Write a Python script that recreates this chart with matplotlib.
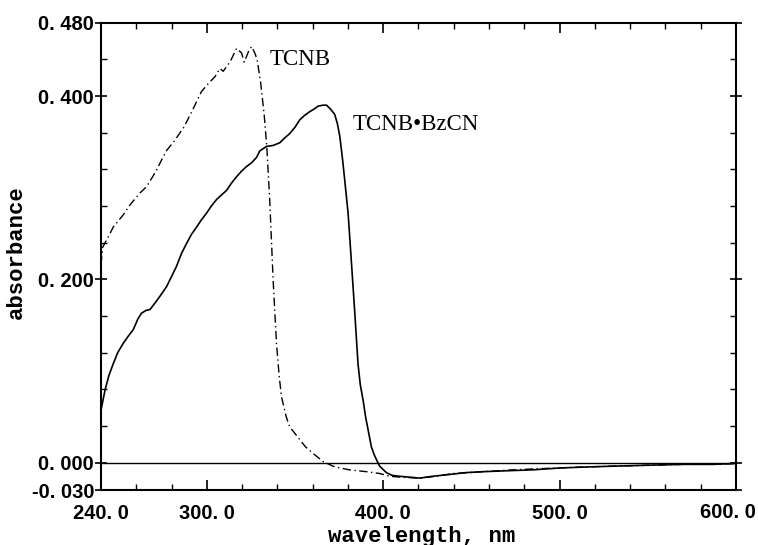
import matplotlib.pyplot as plt
from matplotlib.ticker import FixedLocator

# TCNB (dash-dot)
wl_tcnb = [240, 241, 243.2, 247, 252.5, 256.4, 262, 265.8, 268.7, 271.5, 274.3, 277.4,
           282, 287, 292, 297, 301, 304.6, 307.4, 309.3, 313.1, 316.9, 319.7, 321.2,
           323.5, 325.4, 327.2, 328.5, 330.5, 332.5, 334, 335.7, 337.6, 339.5, 341,
           342.3, 345, 347, 352.7, 356, 360.2, 365.9, 371.6, 375.4, 381, 390.5, 398,
           403.7, 410, 420.7, 430, 439.6, 456.5, 473.4, 484.7, 511.3, 530, 549, 570,
           587, 600]
abs_tcnb = [0.216, 0.235, 0.243, 0.257, 0.270, 0.281, 0.294, 0.301, 0.310, 0.319, 0.330, 0.341,
            0.352, 0.366, 0.385, 0.405, 0.414, 0.421, 0.430, 0.427, 0.437, 0.452, 0.447, 0.437,
            0.448, 0.454, 0.447, 0.440, 0.415, 0.380, 0.345, 0.285, 0.199, 0.130, 0.095,
            0.072, 0.050, 0.039, 0.025, 0.017, 0.010, 0.001, -0.004, -0.006, -0.008, -0.010, -0.012,
            -0.015, -0.016, -0.017, -0.015, -0.012, -0.010, -0.008, -0.007, -0.005, -0.004, -0.003, -0.002,
            -0.002, -0.001]

# TCNB-BzCN complex (solid)
wl_cplx = [240, 242.3, 244.5, 247, 249.5, 252.6, 255.5, 258.3, 261, 263, 265.5, 267.8,
           270.6, 274, 277.2, 280, 282.8, 285.6, 288.5, 291.3, 294.2, 297, 299.8, 302.6,
           305.5, 308.3, 311.2, 314, 316.9, 319.7, 322.5, 325.3, 328.2, 330, 333.8, 337.5,
           341.4, 344, 347, 350, 352.7, 355.5, 358.4, 361, 363.1, 365.9, 367.9, 370,
           372.5, 374, 375.4, 377, 378.2, 380.1, 382, 383.9, 385.7, 387, 388.6, 390,
           391.4, 393.3, 395.2, 398, 401.8, 405, 409.3, 415, 420.7, 428, 437.7, 447,
           456.5, 470, 484.7, 500, 513, 530, 549, 570, 587, 600]
abs_cplx = [0.057, 0.079, 0.095, 0.108, 0.120, 0.130, 0.138, 0.145, 0.157, 0.163, 0.166, 0.167,
            0.174, 0.183, 0.192, 0.203, 0.214, 0.228, 0.239, 0.249, 0.257, 0.265, 0.272, 0.280,
            0.287, 0.292, 0.297, 0.305, 0.312, 0.318, 0.323, 0.327, 0.333, 0.340, 0.345, 0.346,
            0.349, 0.354, 0.359, 0.366, 0.374, 0.379, 0.383, 0.386, 0.389, 0.390, 0.390, 0.386,
            0.380, 0.370, 0.356, 0.330, 0.308, 0.272, 0.218, 0.163, 0.108, 0.085, 0.068, 0.050,
            0.036, 0.017, 0.007, -0.004, -0.011, -0.014, -0.015, -0.016, -0.017, -0.015, -0.013, -0.011,
            -0.010, -0.009, -0.008, -0.006, -0.005, -0.004, -0.003, -0.002, -0.002, -0.001]

x_ticks = [240, 300, 400, 500, 600]
x_labels = ['240. 0', '300. 0', '400. 0', '500. 0', '600. 0']
x_minor = [260, 280, 320, 340, 360, 380, 420, 440, 460, 480, 520, 540, 560, 580]
y_ticks = [-0.03, 0.0, 0.2, 0.4, 0.48]
y_labels = ['-0. 030', '0. 000', '0. 200', '0. 400', '0. 480']
y_minor = [0.04, 0.08, 0.12, 0.16, 0.24, 0.28, 0.32, 0.36, 0.44]

tick_font = ['Liberation Sans', 'DejaVu Sans']
mono_font = ['Liberation Mono', 'DejaVu Sans Mono']

fig = plt.figure(figsize=(7.58, 5.45), dpi=100)
ax = fig.add_axes([0.1332, 0.1009, 0.8378, 0.8574])

ax.axhline(0, color='black', lw=1.0)
ax.plot(wl_cplx, abs_cplx, color='black', lw=1.2)
ax.plot(wl_tcnb, abs_tcnb, color='black', lw=1.0, linestyle=(0, (6, 2.5, 1, 2.5)))

ax.set_xlim(240, 600)
ax.set_ylim(-0.03, 0.48)

ax.xaxis.set_major_locator(FixedLocator(x_ticks))
ax.xaxis.set_minor_locator(FixedLocator(x_minor))
ax.yaxis.set_major_locator(FixedLocator(y_ticks))
ax.yaxis.set_minor_locator(FixedLocator(y_minor))
# the last x label is drawn separately, nudged left so it stays on the page
ax.set_xticklabels(x_labels[:-1] + [''], family=tick_font, fontweight='bold', fontsize=14.5)
ax.set_yticklabels(y_labels, family=tick_font, fontweight='bold', fontsize=14.5)
ax.annotate(x_labels[-1], xy=(x_ticks[-1], 0), xycoords=('data', 'axes fraction'),
            xytext=(-6, -9.5), textcoords='offset points', ha='center', va='top',
            family=tick_font, fontweight='bold', fontsize=14.5, annotation_clip=False)

ax.tick_params(axis='x', which='major', direction='in', length=7, width=1.2,
               top=True, pad=10)
ax.tick_params(axis='x', which='minor', direction='in', length=4, width=1.0, top=True)
ax.tick_params(axis='y', which='major', direction='inout', length=8, width=1.2,
               right=True, pad=1)
ax.tick_params(axis='y', which='minor', direction='in', length=4, width=1.0, right=True)

for sp in ax.spines.values():
    sp.set_linewidth(1.5)

ax.set_xlabel('wavelength, nm', family=mono_font, fontweight='bold', fontsize=16)
ax.set_ylabel('absorbance', family=mono_font, fontweight='bold', fontsize=16)
ax.xaxis.set_label_coords(0.505, -0.078)
ax.yaxis.set_label_coords(-0.117, 0.51)

ax.text(335.7, 0.434, 'TCNB', family='Liberation Serif', fontsize=16.5)
ax.text(382.7, 0.363, 'TCNB\u2022BzCN', family='Liberation Serif', fontsize=16.5)

fig.savefig('out.png', dpi=100)
plt.close(fig)
